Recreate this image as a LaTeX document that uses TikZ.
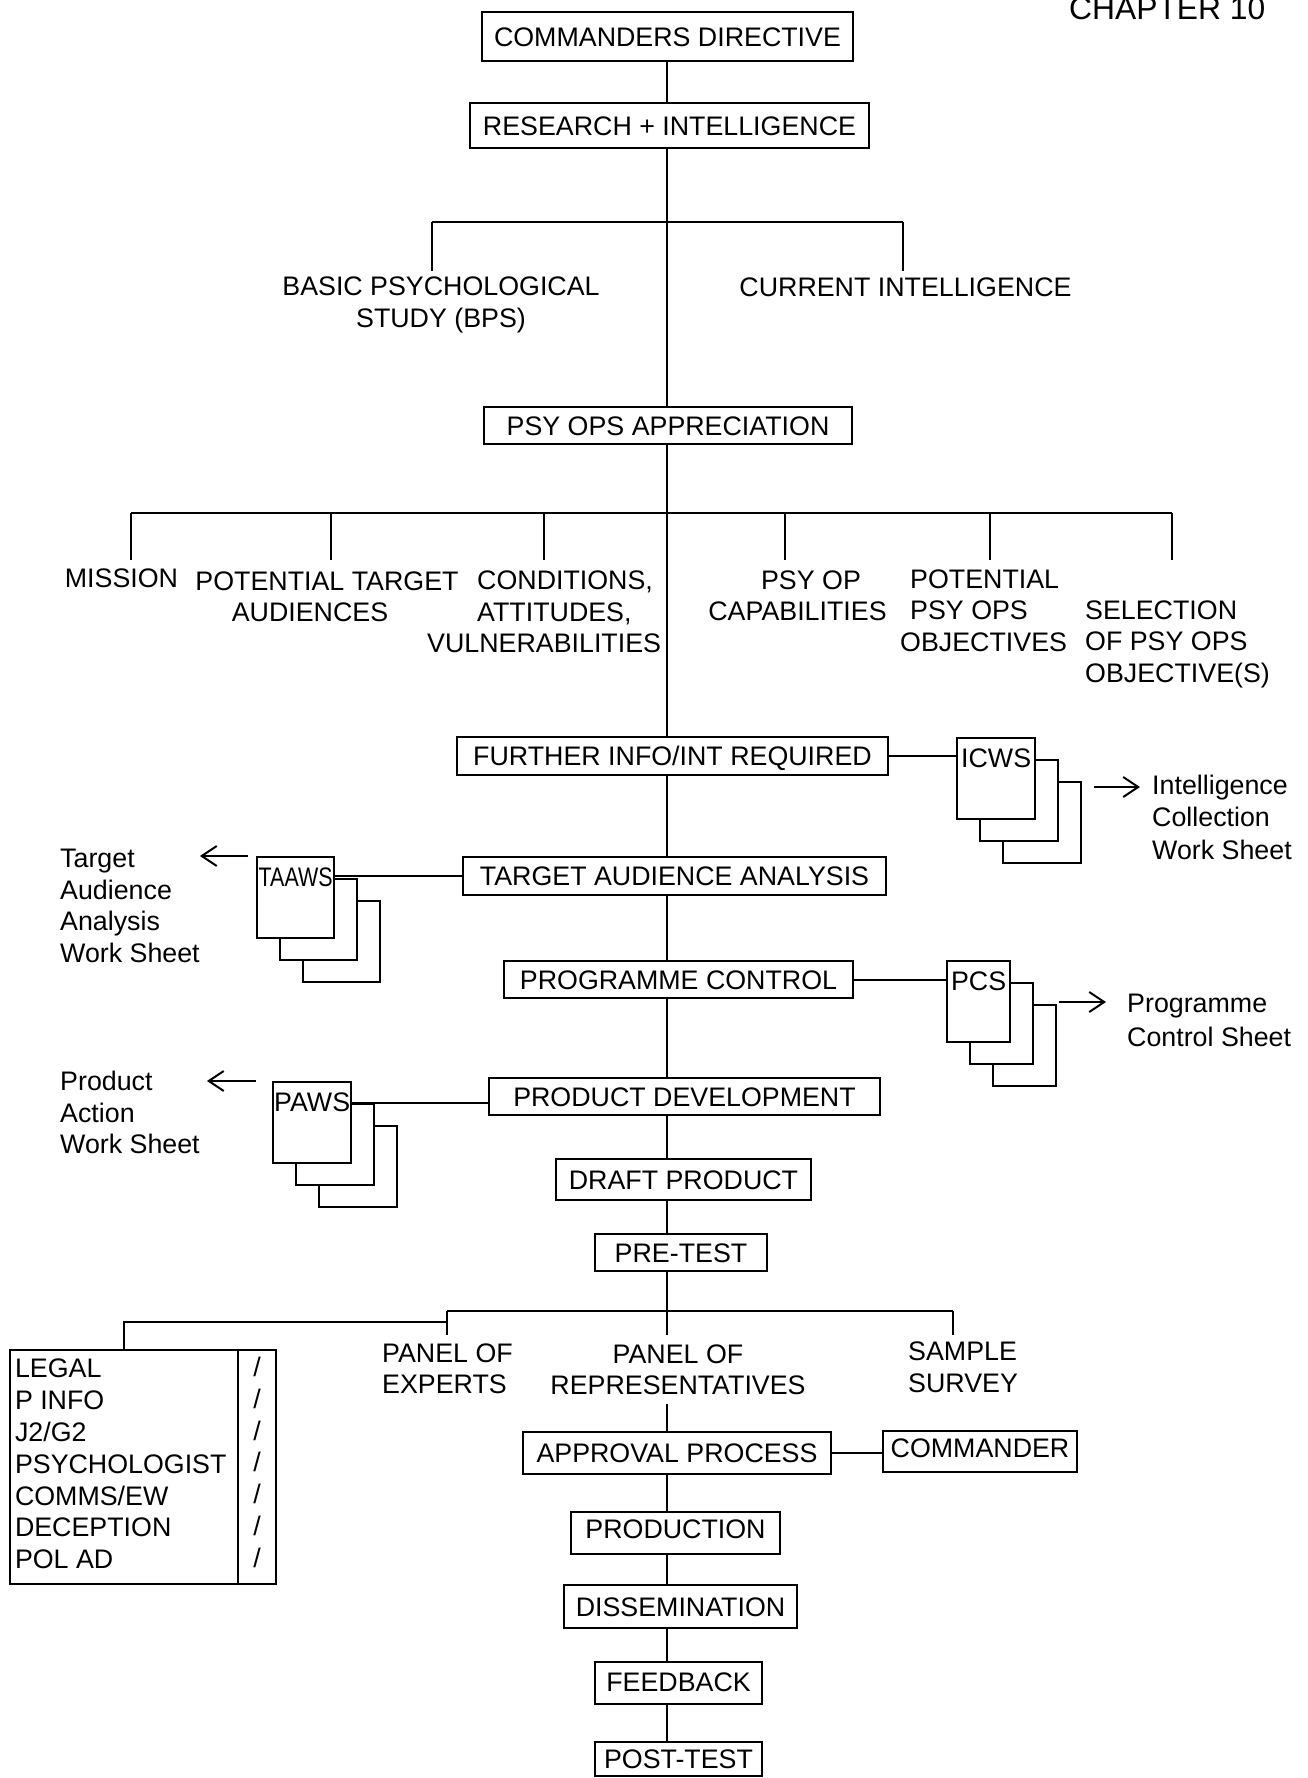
\documentclass[tikz,border=0pt]{standalone}
\usepackage{fontspec}
\setmainfont{Liberation Sans}
\usepackage{graphicx}
\usetikzlibrary{arrows.meta, positioning}
\newcommand{\chartfont}{\fontsize{26.8}{31.5}\selectfont}
\tikzset{
  % riquadro di una fase
  stage/.style={draw, line width=2.3pt, fill=white, font=\chartfont, inner sep=0pt,
    text height=19.2pt, text depth=0pt},
  % testo libero sotto i rami
  lbl/.style={font=\chartfont, inner sep=0pt, execute at begin node=\strut,
    execute at end node=\strut},
  % elenco a sinistra
  listbox/.style={draw, line width=2.3pt, font=\fontsize{26.8}{31.8}\selectfont, inner sep=0pt,
    outer sep=0pt, minimum height=234pt, execute at begin node=\strut, execute at end node=\strut},
  % foglio di lavoro (pila di tre)
  sheet/.style={draw, line width=2.3pt, fill=white, minimum height=81pt, inner sep=0pt},
  sheetlbl/.style={font=\chartfont, inner sep=0pt},
  % linee
  link/.style={line width=2pt},
  bar/.style={line width=2.4pt},
  pointer/.style={line width=2pt, -{Straight Barb[length=15pt, width=20pt, line width=2pt]}},
}
\begin{document}
\begin{tikzpicture}[x=1pt, y=-1pt]
  \useasboundingbox (0,0) rectangle (1308,1778);
  \node[font=\fontsize{31.8}{36}\selectfont, anchor=base west, inner sep=0pt] (chapter) at (1069,19) {CHAPTER 10};

  % fasi lungo l'asse centrale
  \node[stage, minimum width=371pt, minimum height=49pt] (cdir) at (667.5,36.5) {COMMANDERS DIRECTIVE};
  \node[stage, minimum width=399pt, minimum height=45pt] (research) at (669.5,125.5) {RESEARCH + INTELLIGENCE};
  \node[stage, minimum width=368pt, minimum height=37pt] (appreciation) at (668,425.5) {PSY OPS APPRECIATION};
  \node[stage, minimum width=431pt, minimum height=38pt] (further) at (672.5,756) {FURTHER INFO/INT REQUIRED};
  \node[stage, minimum width=423pt, minimum height=38pt] (taa) at (674.5,876) {TARGET AUDIENCE ANALYSIS};
  \node[stage, minimum width=349pt, minimum height=37pt] (progctl) at (678.5,979.5) {PROGRAMME CONTROL};
  \node[stage, minimum width=391pt, minimum height=37pt] (proddev) at (684.5,1096.5) {PRODUCT DEVELOPMENT};
  \node[stage, minimum width=255pt, minimum height=41pt] (draft) at (683.5,1179.5) {DRAFT PRODUCT};
  \node[stage, minimum width=172pt, minimum height=37pt] (pretest) at (681,1252.5) {PRE-TEST};
  \node[stage, minimum width=308pt, minimum height=42pt] (approval) at (677,1453) {APPROVAL PROCESS};
  \node[stage, minimum width=194pt, minimum height=41pt, text depth=7pt] (commander) at (980,1451.5) {COMMANDER};
  \node[stage, minimum width=209pt, minimum height=42pt, text depth=8pt] (production) at (675.5,1533) {PRODUCTION};
  \node[stage, minimum width=233pt, minimum height=43pt] (dissem) at (680.5,1606.5) {DISSEMINATION};
  \node[stage, minimum width=167pt, minimum height=42pt, text depth=3pt] (feedback) at (678.5,1683) {FEEDBACK};
  \node[stage, minimum width=167pt, minimum height=34pt] (posttest) at (678.5,1759) {POST-TEST};

  % voci dei rami
  \node[lbl, align=center] (bps) at (441,306.8) {BASIC PSYCHOLOGICAL\\STUDY (BPS)};
  \node[lbl] (curint) at (905.5,290.3) {CURRENT INTELLIGENCE};
  \node[lbl] (mission) at (121.5,581.3) {MISSION};
  \node[lbl, align=center] (pta) at (327,601.3) {POTENTIAL TARGET\\AUDIENCES\hspace*{34pt}};
  \node[lbl, align=left, anchor=west] (cav) at (427,616.6) {\hspace*{50pt}CONDITIONS,\\\hspace*{50pt}ATTITUDES,\\VULNERABILITIES};
  \node[lbl, align=center] (capab) at (797.5,600.3) {\hspace*{27pt}PSY OP\\CAPABILITIES};
  \node[lbl, align=left, anchor=west] (ppo) at (900,615.3) {\hspace*{10pt}POTENTIAL\\\hspace*{10pt}PSY OPS\\OBJECTIVES};
  \node[lbl, align=left, anchor=west] (sel) at (1085,646.3) {SELECTION\\OF PSY OPS\\OBJECTIVE(S)};
  \node[lbl, align=left, anchor=west] (poe) at (382,1373.3) {PANEL OF\\EXPERTS};
  \node[lbl, align=center] (por) at (678,1374.3) {PANEL OF\\REPRESENTATIVES};
  \node[lbl, align=left, anchor=west] (sample) at (908,1371.8) {SAMPLE\\SURVEY};

  % elenco con caselle
  \node[listbox, anchor=north west, minimum width=228pt, text width=218pt, align=flush left] (roles) at (10,1350)
    {LEGAL\\P INFO\\J2/G2\\PSYCHOLOGIST\\COMMS/EW\\DECEPTION\\POL AD};
  \node[listbox, anchor=north west, minimum width=38pt, align=center] (ticks) at (roles.north east) {/\\/\\/\\/\\/\\/\\/};

  % fogli di lavoro
  \foreach \nm/\x/\y/\w/\txt in {icws/956/737/78/ICWS, taaws/256/856/77/{\scalebox{0.8}[1]{TAAWS}},
      pcs/946/960/63/PCS, paws/272/1081/78/PAWS} {
    \foreach \k in {3,2,1}
      \node[sheet, minimum width=\w pt, anchor=north west] (\nm\k) at ({\x+23*(\k-1)},{\y+22*(\k-1)}) {};
    \node[sheetlbl, anchor=north] (\nm-lbl) at ([yshift=-12pt]\nm1.north) {\txt};
  }
  \node[lbl, align=left, anchor=west] (icwsnote) at (1152,822) {Intelligence\\[1pt]Collection\\[1pt]Work Sheet};
  \node[lbl, align=left, anchor=west] (taanote) at (60,910.5) {Target\\Audience\\Analysis\\Work Sheet};
  \node[lbl, align=left, anchor=west] (pcsnote) at (1127,1024.5) {Programme\\[2.5pt]Control Sheet};
  \node[lbl, align=left, anchor=west] (pawsnote) at (60,1117) {Product\\Action\\Work Sheet};

  % asse centrale
  \coordinate (spine) at (667,0);
  \coordinate (drop1) at (0,271);
  \coordinate (drop2) at (0,560);
  \coordinate (drop3) at (0,1335);
  \foreach \a/\b in {cdir/research, research/appreciation, appreciation/further, further/taa,
      taa/progctl, progctl/proddev, proddev/draft, draft/pretest, por/approval,
      approval/production, production/dissem, dissem/feedback, feedback/posttest}
    \draw[link] (\a.south -| spine) -- (\b.north -| spine);
  \draw[link] (pretest.south -| spine) -- (drop3 -| spine);

  % rami
  \coordinate (bar1) at (0,222);
  \coordinate (bar2) at (0,513);
  \coordinate (bar3) at (0,1311);
  \coordinate (rolesjoin) at (0,1322);
  \coordinate (bps-top) at ([xshift=-9pt]bps.north);
  \coordinate (curint-top) at ([xshift=-2.5pt]curint.north);
  \draw[bar] (bps-top |- bar1) -- (curint-top |- bar1);
  \draw[link] (bps-top |- bar1) -- (bps-top |- drop1);
  \draw[link] (curint-top |- bar1) -- (curint-top |- drop1);
  \foreach \n/\dx in {mission/9.5, pta/4, cav/0, capab/-12.5, ppo/6.5, sel/-5.5} {
    \coordinate (\n-top) at ([xshift=\dx pt]\n.north);
    \draw[link] (\n-top |- bar2) -- (\n-top |- drop2);
  }
  \draw[bar] (mission-top |- bar2) -- (sel-top |- bar2);
  \coordinate (sample-top) at ([xshift=-10pt]sample.north);
  \draw[bar] (poe.north |- bar3) -- (sample-top |- bar3);
  \draw[link] (poe.north |- bar3) -- (poe.north |- drop3);
  \draw[link] (sample-top |- bar3) -- (sample-top |- drop3);
  \draw[bar] (roles.north) |- (rolesjoin -| poe.north);

  % collegamenti laterali
  \draw[link] (further.east) -- (further.east -| icws1.west);
  \draw[link] (taa.west) -- (taa.west -| taaws1.east);
  \draw[link] (progctl.east) -- (progctl.east -| pcs1.west);
  \draw[link] (paws2.north -| proddev.west) -- (paws2.north -| paws1.east);
  \draw[link] (approval.east) -- (approval.east -| commander.west);

  % frecce verso le didascalie
  \coordinate (icwsout) at (1094,787);
  \coordinate (pcsout) at (1059,1002);
  \coordinate (taaout) at (248,856);
  \coordinate (pawsout) at (256,1081);
  \draw[pointer, shorten >=12pt] (icwsout) -- (icwsout -| icwsnote.west);
  \draw[pointer, shorten >=21pt] (pcsout) -- (pcsout -| pcsnote.west);
  \draw[pointer] (taaout) -- (taaout -| taanote.east);
  \draw[pointer, shorten >=7pt] (pawsout) -- (pawsout -| pawsnote.east);
\end{tikzpicture}
\end{document}
